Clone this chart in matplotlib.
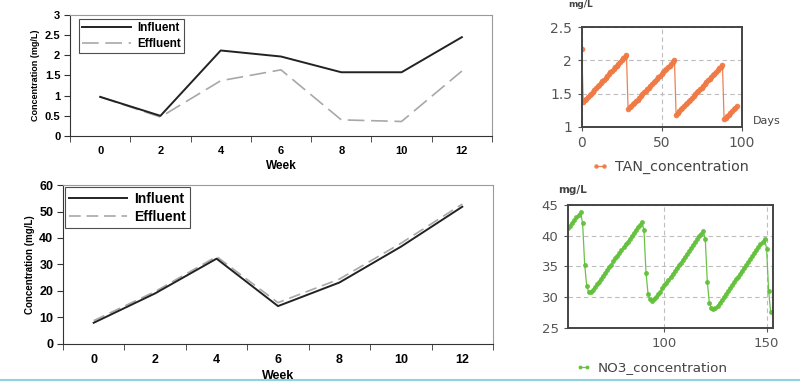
import matplotlib
matplotlib.use('Agg')
import matplotlib.pyplot as plt
from matplotlib.lines import Line2D

# ---- data ----
weeks = [0, 2, 4, 6, 8, 10, 12]
tan_influent = [0.97, 0.50, 2.12, 1.97, 1.58, 1.58, 2.45]
tan_effluent = [0.97, 0.47, 1.37, 1.64, 0.40, 0.36, 1.61]
no3_influent = [8.0, 19.1, 32.2, 14.3, 23.2, 36.7, 51.8]
no3_effluent = [8.8, 19.8, 33.0, 15.6, 24.5, 38.0, 52.8]

tan_days = list(range(0, 98))
tan_conc = [2.18,
            1.37, 1.40, 1.42, 1.45, 1.48, 1.50, 1.53, 1.55, 1.58, 1.61, 1.63, 1.66, 1.69, 1.71,
            1.74, 1.76, 1.79, 1.82, 1.84, 1.87, 1.90, 1.92, 1.95, 1.97, 2.00, 2.03, 2.05, 2.08,
            1.26, 1.29, 1.31, 1.34, 1.36, 1.39, 1.41, 1.44, 1.46, 1.49, 1.52, 1.54, 1.57, 1.59, 1.62,
            1.64, 1.67, 1.69, 1.72, 1.75, 1.77, 1.80, 1.82, 1.85, 1.87, 1.90, 1.92, 1.95, 1.97, 2.00,
            1.18, 1.21, 1.23, 1.26, 1.28, 1.31, 1.34, 1.36, 1.39, 1.41, 1.44, 1.46, 1.49, 1.52, 1.54,
            1.57, 1.59, 1.62, 1.65, 1.67, 1.70, 1.72, 1.75, 1.78, 1.80, 1.83, 1.85, 1.88, 1.90, 1.93,
            1.11, 1.13, 1.16, 1.18, 1.21, 1.23, 1.26, 1.28, 1.31]

no3_days = list(range(53, 153))
no3_conc = [41.2, 41.6, 42.1, 42.5, 43.0, 43.4, 43.8, 42.0, 35.3, 31.8, 30.8, 30.9, 31.2,
            31.6, 32.1, 32.5, 33.0, 33.5, 33.9, 34.4, 34.9, 35.3, 35.8, 36.3, 36.7,
            37.2, 37.6, 38.1, 38.6, 39.0, 39.5, 40.0, 40.4, 40.9, 41.4, 41.8, 42.3,
            40.9, 34.0, 30.5, 29.6, 29.4, 29.6, 30.0,
            30.5, 30.9, 31.4, 31.9, 32.3, 32.8, 33.3, 33.8, 34.2, 34.7, 35.2, 35.6,
            36.1, 36.6, 37.0, 37.5, 38.0, 38.5, 38.9, 39.4, 39.9, 40.3, 40.8,
            39.4, 32.5, 29.0, 28.2, 28.0, 28.2, 28.6,
            29.1, 29.5, 30.0, 30.5, 31.0, 31.4, 31.9, 32.4, 32.9, 33.3, 33.8, 34.3,
            34.8, 35.2, 35.7, 36.2, 36.7, 37.1, 37.6, 38.1, 38.6, 39.0, 39.5,
            37.9, 31.0, 27.5]

fig = plt.figure(figsize=(8, 3.82), dpi=100)
excel_font = 'Liberation Sans'


def excel_panel(rect, infl, effl, ylim, yticks, ylabels, fs, lab_fs, leg_fs, dash, anchor):
    ax = fig.add_axes(rect)
    ax.plot(weeks, effl, color='#a8a8a8', lw=1.2, dashes=dash, label='Effluent', zorder=2)
    ax.plot(weeks, infl, color='#222222', lw=1.4, label='Influent', zorder=3)
    ax.set_xlim(-1, 13)
    ax.set_ylim(*ylim)
    ax.set_xticks(weeks)
    ax.set_xticklabels([str(w) for w in weeks], fontweight='bold', fontsize=fs, family=excel_font)
    ax.set_xticks(range(-1, 14, 2), minor=True)
    ax.tick_params(axis='x', which='major', length=0, pad=7)
    ax.tick_params(axis='x', which='minor', length=4, color='#333333')
    ax.set_yticks(yticks)
    ax.set_yticklabels(ylabels, fontweight='bold', fontsize=fs, family=excel_font)
    ax.tick_params(axis='y', length=4, color='#333333', pad=3)
    for s in ['top', 'right']:
        ax.spines[s].set_color('#9a9a9a')
    for s in ['left', 'bottom']:
        ax.spines[s].set_color('#333333')
    ax.set_xlabel('Week', fontweight='bold', fontsize=lab_fs + 2, family=excel_font, labelpad=3)
    ax.set_ylabel('Concentration (mg/L)', fontweight='bold', fontsize=lab_fs, family=excel_font, labelpad=3)
    h, l = ax.get_legend_handles_labels()
    leg = ax.legend(h[::-1], l[::-1], loc='upper left', bbox_to_anchor=anchor,
                    borderaxespad=0, fancybox=False, edgecolor='#222222', handlelength=4.2,
                    prop={'family': excel_font, 'weight': 'bold', 'size': leg_fs},
                    borderpad=0.3, labelspacing=0.3, handletextpad=0.5)
    leg.get_frame().set_linewidth(0.8)
    return ax


excel_panel([0.0875, 0.644, 0.5275, 0.3168], tan_influent, tan_effluent, (0, 3),
            [0, 0.5, 1, 1.5, 2, 2.5, 3], ['0', '0.5', '1', '1.5', '2', '2.5', '3'],
            8, 6.5, 8.4, (10, 4), (0.021, 0.967))

excel_panel([0.07875, 0.0995, 0.5375, 0.4162], no3_influent, no3_effluent, (0, 60),
            [0, 10, 20, 30, 40, 50, 60], ['0', '10', '20', '30', '40', '50', '60'],
            9, 7, 10, (7, 3.5), (0.004, 0.985))


def model_panel(rect, x, y, color, xlim, ylim, xticks, yticks, ylabels, fs, ms):
    ax = fig.add_axes(rect)
    ax.grid(True, color='#bdbdbd', linestyle=(0, (4, 3)), lw=0.8)
    ax.set_axisbelow(True)
    line, = ax.plot(x, y, color=color, lw=0.9, marker='o', markersize=ms,
                    markeredgewidth=0, alpha=0.95)
    ax.set_xlim(*xlim)
    ax.set_ylim(*ylim)
    ax.set_xticks(xticks)
    ax.set_xticklabels([str(t) for t in xticks])
    ax.set_yticks(yticks)
    ax.set_yticklabels(ylabels)
    ax.tick_params(length=3, color='#555555', labelcolor='#555555', labelsize=fs, pad=4)
    for s in ax.spines.values():
        s.set_color('#444444')
        s.set_linewidth(1.4)
    return line


tan_line = model_panel([0.7271, 0.6683, 0.2, 0.2602], tan_days, tan_conc, '#f07a45',
                       (0, 100), (1, 2.5), [0, 50, 100], [1, 1.5, 2, 2.5],
                       ['1', '1.5', '2', '2.5'], 10, 4.0)
no3_line = model_panel([0.7104, 0.1421, 0.2555, 0.3212], no3_days, no3_conc, '#62c03a',
                       (53, 153), (25, 45), [100, 150], [25, 30, 35, 40, 45],
                       ['25', '30', '35', '40', '45'], 9.5, 3.5)

fig.text(0.941, 0.683, 'Days', fontsize=8, color='#444444', ha='left', va='center')
fig.text(0.71, 0.999, 'mg/L', fontsize=6.5, fontweight='bold', color='#444444', ha='left', va='top')
fig.text(0.698, 1 - 190 / 382, 'mg/L', fontsize=7.5, fontweight='bold', color='#444444',
         ha='left', va='center')

fig.legend([tan_line], ['TAN_concentration'], loc='center', bbox_to_anchor=(0.838, 1 - 167 / 382),
           frameon=False, fontsize=10.3, handlelength=1.1, numpoints=2, handletextpad=0.5,
           labelcolor='#444444', markerscale=0.8)
fig.legend([no3_line], ['NO3_concentration'], loc='center', bbox_to_anchor=(0.815, 1 - 368 / 382),
           frameon=False, fontsize=9.7, handlelength=1.1, numpoints=2, handletextpad=0.5,
           labelcolor='#444444', markerscale=0.8)

# thin cyan rule along the bottom edge
fig.add_artist(Line2D([0, 1], [0.004, 0.004], transform=fig.transFigure, color='#8fd3e0', lw=1.5))

fig.savefig('out.png', dpi=100)
